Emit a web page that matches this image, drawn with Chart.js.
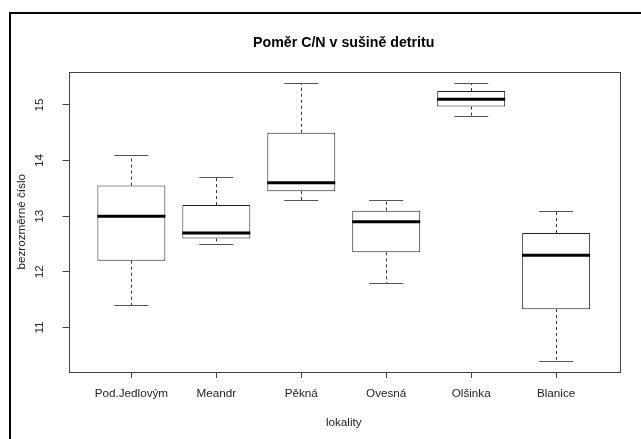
<!DOCTYPE html>
<html><head><meta charset="utf-8">
<script src="https://cdn.jsdelivr.net/npm/chart.js@4.4.1/dist/chart.umd.min.js"></script>
<style>
html,body{margin:0;padding:0;background:#fff;}
#wrap{position:relative;width:641px;height:439px;overflow:hidden;}
#frame{position:absolute;left:9px;top:12px;width:700px;height:500px;border-left:2px solid #000;border-top:2px solid #000;}
canvas{position:absolute;left:0;top:0;}
</style></head><body>
<div id="wrap"><div id="frame"></div><canvas id="c" width="641" height="439"></canvas></div>
<script>
const categories = ['Pod.Jedlovým','Meandr','Pěkná','Ovesná','Olšinka','Blanice'];
const whiskerLow  = [11.4, 12.5, 13.3, 11.8, 14.8, 10.4];
const q1          = [12.2, 12.6, 13.45, 12.35, 14.97, 11.33];
const medians     = [13.0, 12.7, 13.6, 12.9, 15.1, 12.3];
const q3          = [13.55, 13.2, 14.5, 13.1, 15.25, 12.7];
const whiskerHigh = [14.1, 13.7, 15.4, 13.3, 15.4, 13.1];
const yTicks = [11, 12, 13, 14, 15];
const xTicks = [1, 2, 3, 4, 5, 6];

const FONT = '"Liberation Sans", Arial, sans-serif';

const boxPlugin = {
  id: 'boxplot',
  afterDatasetsDraw(chart) {
    const ctx = chart.ctx, y = chart.scales.y, meta = chart.getDatasetMeta(0);
    meta.data.forEach((bar, i) => {
      const cx = bar.x, w = bar.width;
      const px = Math.round(cx) + 0.5;
      const yTop = y.getPixelForValue(q3[i]), yBot = y.getPixelForValue(q1[i]);
      const yHi = Math.round(y.getPixelForValue(whiskerHigh[i])) + 0.5;
      const yLo = Math.round(y.getPixelForValue(whiskerLow[i])) + 0.5;
      const yMed = y.getPixelForValue(medians[i]);
      ctx.save();
      ctx.lineWidth = 1;
      ctx.strokeStyle = '#333';
      ctx.setLineDash([3, 3]);
      ctx.beginPath();
      ctx.moveTo(px, yTop); ctx.lineTo(px, yHi);
      ctx.moveTo(px, yBot); ctx.lineTo(px, yLo);
      ctx.stroke();
      ctx.setLineDash([]);
      ctx.strokeStyle = '#555';
      ctx.beginPath();
      ctx.moveTo(cx - w / 4, yHi); ctx.lineTo(cx + w / 4, yHi);
      ctx.moveTo(cx - w / 4, yLo); ctx.lineTo(cx + w / 4, yLo);
      ctx.stroke();
      ctx.lineWidth = 3;
      ctx.strokeStyle = '#000';
      ctx.beginPath();
      ctx.moveTo(cx - w / 2, yMed); ctx.lineTo(cx + w / 2, yMed);
      ctx.stroke();
      ctx.restore();
    });
  },
  afterDraw(chart) {
    const {ctx, chartArea: a, scales: {y}} = chart;
    ctx.save();
    ctx.strokeStyle = '#444';
    ctx.lineWidth = 1;
    ctx.strokeRect(Math.round(a.left) + 0.5, Math.round(a.top) + 0.5,
                   Math.round(a.right - a.left), Math.round(a.bottom - a.top));
    ctx.fillStyle = '#222';
    ctx.font = '11.7px ' + FONT;
    ctx.textAlign = 'center';
    ctx.textBaseline = 'middle';
    y.ticks.forEach(t => {
      const py = y.getPixelForValue(t.value);
      ctx.save();
      ctx.translate(40, py);
      ctx.rotate(-Math.PI / 2);
      ctx.fillText(String(t.value), 0, 0);
      ctx.restore();
    });
    ctx.restore();
  }
};

new Chart(document.getElementById('c'), {
  type: 'bar',
  data: {
    datasets: [{
      data: xTicks.map((x, i) => ({x: x, y: [q1[i], q3[i]]})),
      backgroundColor: '#fff',
      borderColor: '#222',
      borderWidth: 1,
      borderSkipped: false,
      barPercentage: 0.8,
      categoryPercentage: 1.0
    }]
  },
  options: {
    responsive: false,
    animation: false,
    devicePixelRatio: 1,
    layout: {padding: {left: 0, right: 22, top: 0, bottom: 0}},
    plugins: {
      legend: {display: false},
      tooltip: {enabled: false},
      title: {
        display: true,
        text: 'Poměr C/N v sušině detritu',
        fullSize: false,
        color: '#000',
        font: {family: FONT, size: 14.2, weight: 'bold', lineHeight: 1.2},
        padding: {top: 35, bottom: 19.5}
      }
    },
    scales: {
      x: {
        type: 'linear',
        min: 0.26, max: 6.74,
        offset: false,
        afterBuildTicks: s => { s.ticks = xTicks.map(v => ({value: v})); },
        afterFit: s => { s.height = 67; },
        border: {display: false},
        grid: {offset: false, drawOnChartArea: false, drawTicks: true, tickLength: 6, color: '#444'},
        ticks: {
          color: '#222', padding: 9, maxRotation: 0, autoSkip: false,
          font: {family: FONT, size: 11.7},
          callback: v => categories[v - 1]
        },
        title: {
          display: true, text: 'lokality', color: '#222',
          font: {family: FONT, size: 11.7, lineHeight: 1.2},
          padding: {top: 0, bottom: 9}
        }
      },
      y: {
        min: 10.2, max: 15.6,
        afterBuildTicks: s => { s.ticks = yTicks.map(v => ({value: v})); },
        afterFit: s => { s.width = 68.5; },
        border: {display: false},
        grid: {offset: false, drawOnChartArea: false, drawTicks: true, tickLength: 6, color: '#444'},
        ticks: {display: false},
        title: {
          display: true, text: 'bezrozměrné číslo', color: '#222',
          font: {family: FONT, size: 11.7, lineHeight: 1.2},
          padding: {top: 14.5, bottom: 0}
        }
      }
    }
  },
  plugins: [boxPlugin]
});
</script>
</body></html>
